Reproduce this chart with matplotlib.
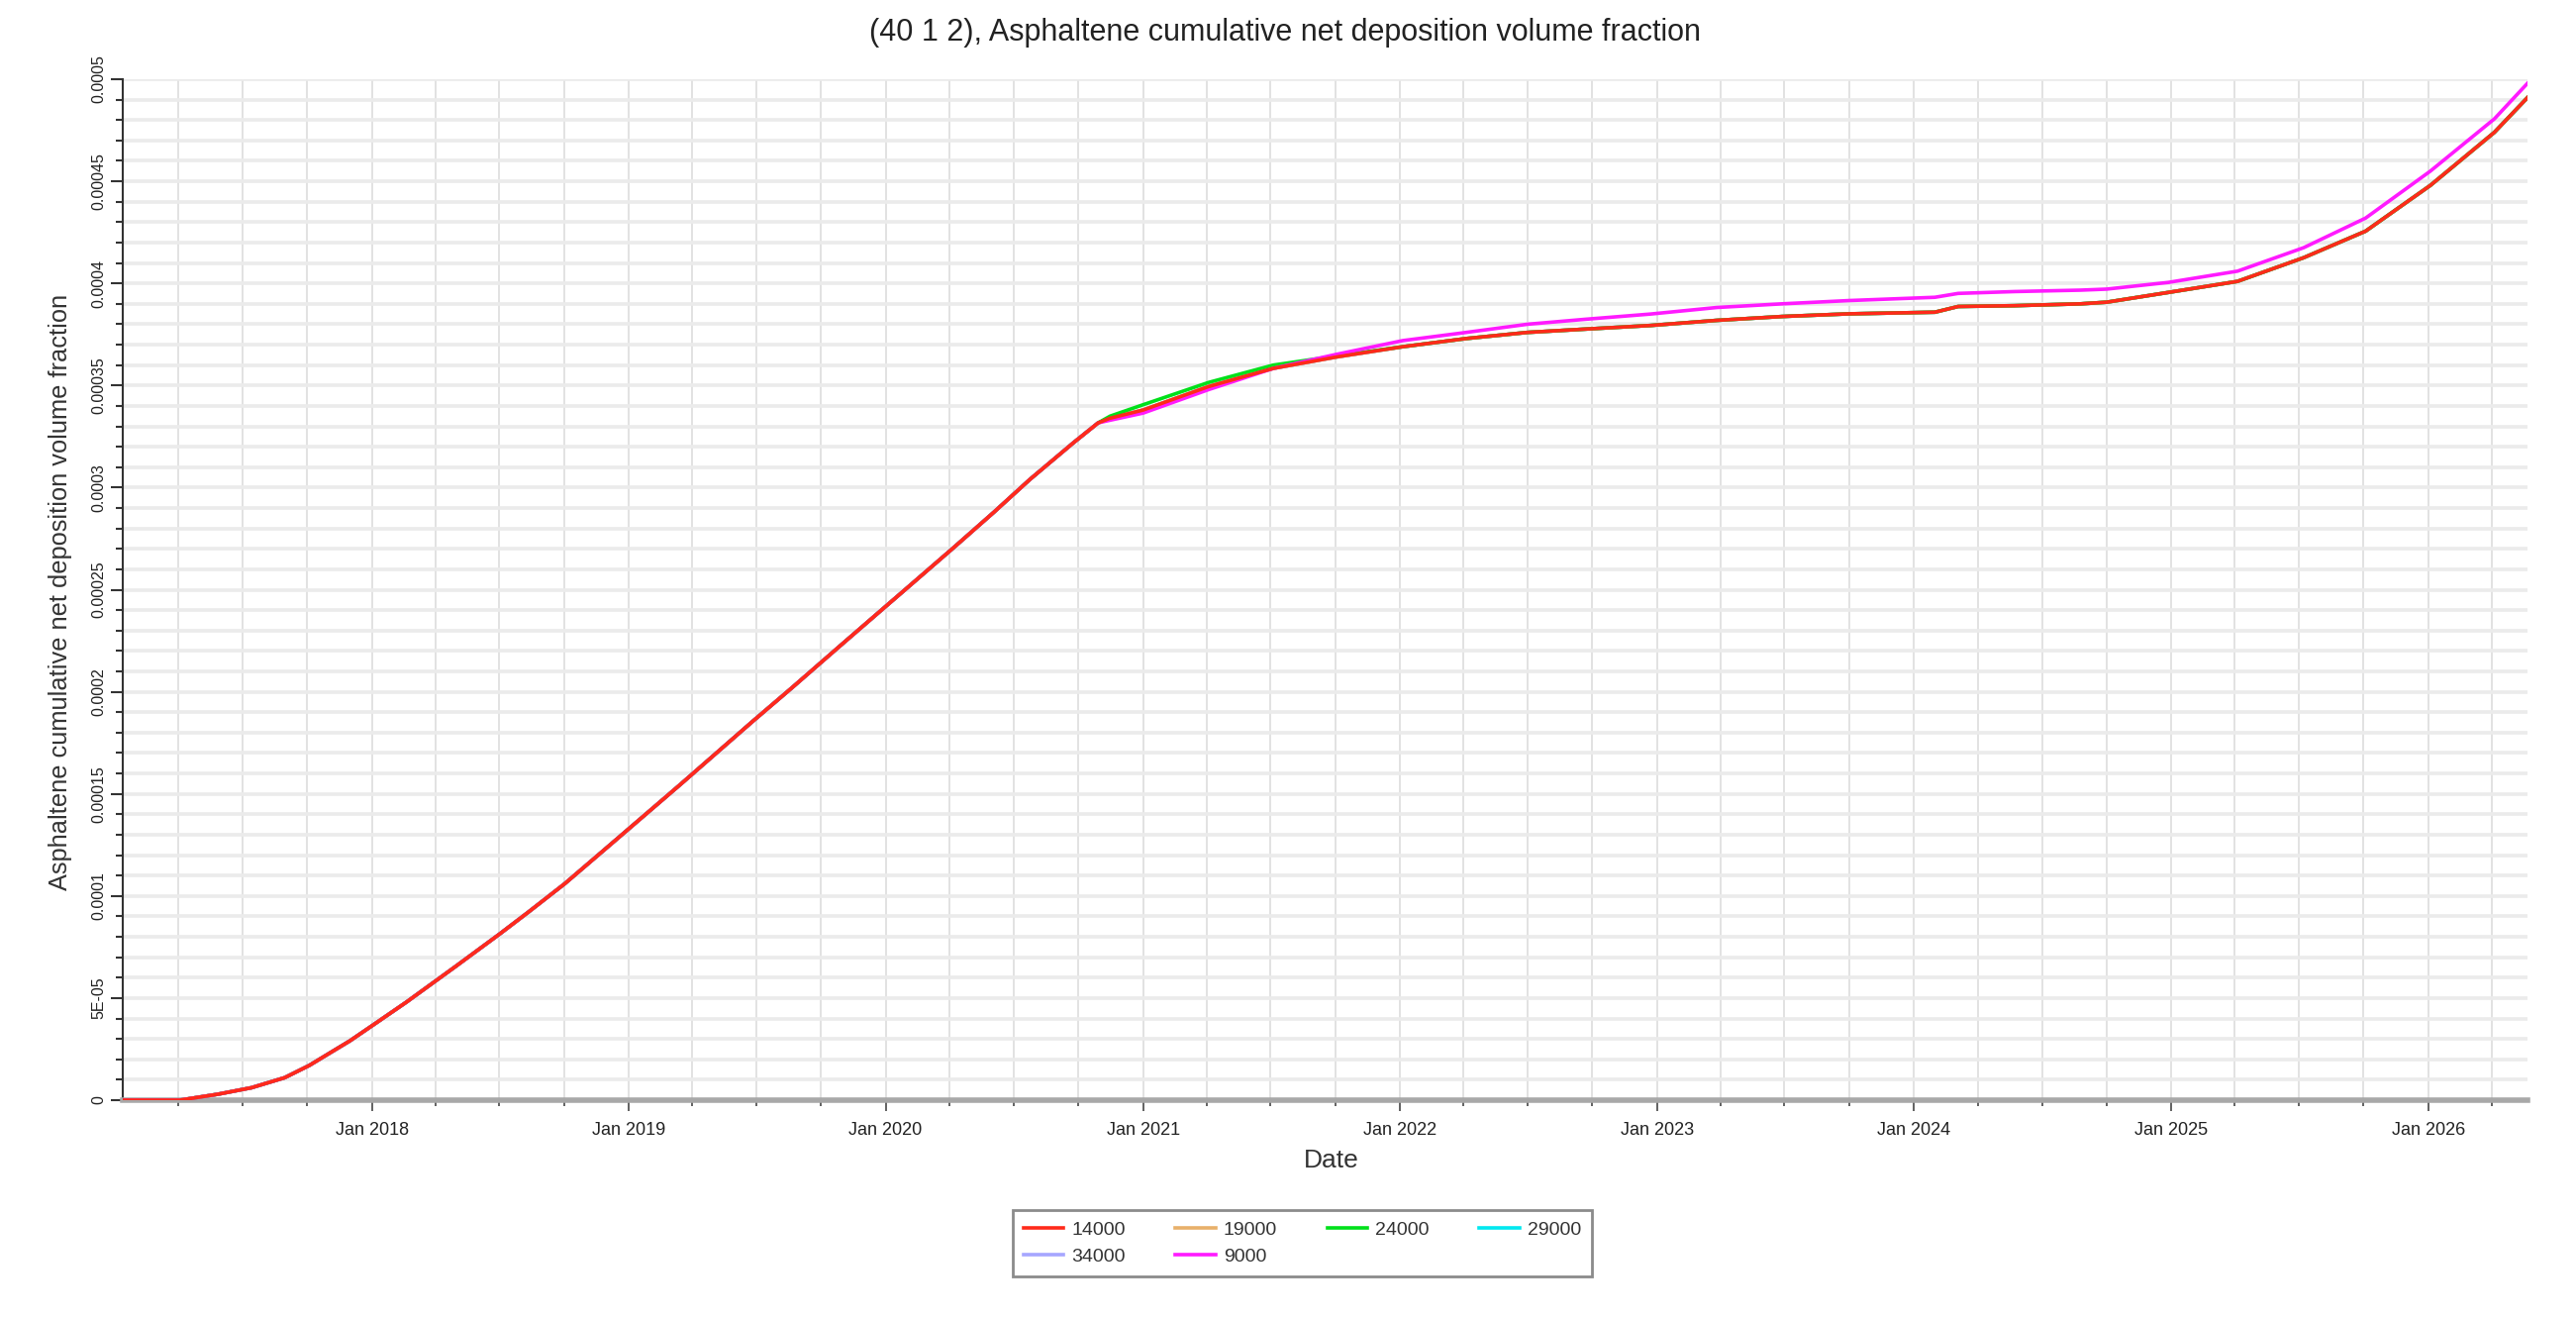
import matplotlib
matplotlib.use("Agg")
import matplotlib.pyplot as plt
import matplotlib.dates as mdates
from matplotlib.ticker import MultipleLocator, FuncFormatter
import pandas as pd

dates = ["2017-01-12", "2017-04-03", "2017-05-27", "2017-07-14", "2017-08-30",
         "2017-10-04", "2017-12-01", "2018-01-01", "2018-02-19", "2018-04-02",
         "2018-04-30", "2018-07-02", "2018-08-11", "2018-10-02", "2018-12-02",
         "2019-03-15", "2019-06-26", "2019-08-21", "2019-10-30", "2019-12-26",
         "2020-02-01", "2020-04-08", "2020-06-03", "2020-07-24", "2020-09-24",
         "2020-10-29", "2020-11-15", "2021-01-01", "2021-04-04", "2021-07-05",
         "2021-10-03", "2022-01-05", "2022-04-05", "2022-07-01", "2022-09-20",
         "2022-12-23", "2023-03-27", "2023-06-28", "2023-10-01", "2024-01-31",
         "2024-03-04", "2024-05-23", "2024-08-25", "2024-10-01", "2024-12-28",
         "2025-04-05", "2025-07-08", "2025-10-04", "2026-01-04", "2026-04-05",
         "2026-05-22"]

# values in units of 1e-5
s14000 = [0, 0, 0.29, 0.61, 1.10, 1.70, 2.91, 3.64, 4.8, 5.85,
          6.55, 8.15, 9.2, 10.6, 12.4, 15.45, 18.55, 20.2, 22.3, 24.0,
          25.1, 27.1, 28.8, 30.4, 32.2, 33.17, 33.4, 33.8, 34.95, 35.84,
          36.4, 36.9, 37.3, 37.6, 37.76, 37.94, 38.19, 38.38, 38.51, 38.59,
          38.87, 38.91, 39.0, 39.08, 39.56, 40.1, 41.26, 42.56, 44.8, 47.4,
          49.1]
s24000 = s14000[:26] + [33.5, 34.06, 35.15, 36.0, 36.45] + s14000[31:]
s9000 = s14000[:26] + [33.3, 33.65, 34.8, 35.84, 36.53, 37.2, 37.6, 38.0, 38.24,
                       38.5, 38.82, 39.0, 39.16, 39.32, 39.51, 39.6, 39.67,
                       39.72, 40.05, 40.6, 41.75, 43.2, 45.5, 48.06, 49.8]
s19000 = list(s14000)
s29000 = list(s14000)
s34000 = list(s14000)

labels = ["14000", "19000", "24000", "29000", "34000", "9000"]
colors = ["#ff2a1a", "#e8b06a", "#00e01a", "#00e8f0", "#a6a6ff", "#ff1aff"]
series = [s14000, s19000, s24000, s29000, s34000, s9000]
zorders = [9, 4, 5, 3, 3, 6]

plt.rcParams["font.family"] = ["Liberation Sans", "DejaVu Sans"]

x = pd.to_datetime(dates)

fig = plt.figure(figsize=(26.02, 13.32), dpi=100)
ax = fig.add_axes([124 / 2602, 1 - 1111 / 1332, (2553 - 124) / 2602, (1111 - 80) / 1332])

lines = {}
for lab, col, s, z in zip(labels, colors, series, zorders):
    ln, = ax.plot(x, [v * 1e-5 for v in s], color=col, lw=2.6, label=lab, zorder=z)
    lines[lab] = ln

ax.set_xlim(pd.Timestamp("2017-01-12"), pd.Timestamp("2026-05-22"))
ax.set_ylim(0, 0.0005)

ax.xaxis.set_major_locator(mdates.YearLocator())
ax.xaxis.set_major_formatter(mdates.DateFormatter("%b %Y"))
ax.xaxis.set_minor_locator(mdates.MonthLocator(bymonth=[1, 4, 7, 10]))
ax.yaxis.set_major_locator(MultipleLocator(5e-5))
ax.yaxis.set_minor_locator(MultipleLocator(1e-5))
ax.yaxis.set_major_formatter(FuncFormatter(lambda v, _: f"{round(v, 7):g}".upper()))

ax.grid(which="both", axis="x", color="#e2e2e2", lw=1.4)
ax.grid(which="both", axis="y", color="#ebebeb", lw=2.6)
ax.set_axisbelow(True)

for side in ["top", "right"]:
    ax.spines[side].set_visible(False)
ax.spines["left"].set_color("#333333")
ax.spines["left"].set_linewidth(1.5)
ax.spines["bottom"].set_color("#a8a8a8")
ax.spines["bottom"].set_linewidth(4)

ax.tick_params(axis="x", which="major", length=8, width=1.3, color="#555555",
               labelsize=13, labelcolor="#222222", pad=8)
ax.tick_params(axis="x", which="minor", length=4, width=1.3, color="#555555")
ax.tick_params(axis="y", which="major", length=9, width=1.5, color="#333333",
               labelsize=11.5, labelcolor="#222222", pad=3, labelrotation=90)
ax.tick_params(axis="y", which="minor", length=5, width=1.5, color="#333333")
for t in ax.get_yticklabels():
    t.set_va("center")

ax.set_xlabel("Date", fontsize=19, color="#333333")
ax.xaxis.set_label_coords(0.5027, -0.048)
ax.set_ylabel("Asphaltene cumulative net deposition volume fraction", fontsize=18.3, color="#333333")
ax.yaxis.set_label_coords(-0.021, 0.4976)

fig.suptitle("(40 1 2), Asphaltene cumulative net deposition volume fraction",
             x=0.4988, y=0.975, va="center", fontsize=22, color="#222222")

# matplotlib fills legend columns first, so reorder to get row-wise layout
order = ["14000", "34000", "19000", "9000", "24000", "29000"]
leg = ax.legend([lines[k] for k in order], order, ncol=4, loc="center",
                bbox_to_anchor=(0.5055, 0.0574), bbox_transform=fig.transFigure,
                fontsize=14, frameon=True, fancybox=False, shadow=False,
                handlelength=2.1, handletextpad=0.4, columnspacing=2.6,
                borderpad=0.55, labelspacing=0.5, borderaxespad=0)
leg.get_frame().set_edgecolor("#6e6e6e")
leg.get_frame().set_linewidth(2)
for t in leg.get_texts():
    t.set_color("#333333")

fig.savefig("out.png", dpi=100)
